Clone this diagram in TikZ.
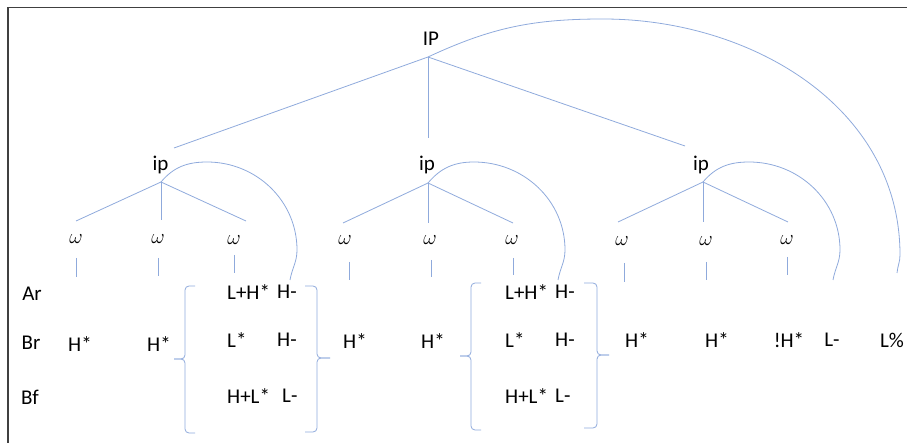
\documentclass[tikz,border=0pt]{standalone}
\usepackage{fontspec}
\setmainfont{Carlito}
\definecolor{lineblue}{RGB}{143,170,220}
\definecolor{framegray}{RGB}{64,64,64}

\begin{document}
\begin{tikzpicture}
[every node/.style={inner sep=0pt},
 tone/.style={font=\fontsize{21}{24}\selectfont},
 word/.style={font=\fontsize{22}{25}\selectfont},
 branch/.style={line width=0.8pt, color=lineblue},
 tonebrace/.style={branch, rounded corners=4pt}]
\useasboundingbox (0pt, 0pt) rectangle (907pt, -443pt);
\draw [line width=1.6pt, color=framegray] (907pt, -7.5pt) -- (8pt, -7.5pt) -- (8pt, -443pt);
% labels
\node (IP) [tone] at (431.0pt, -39.0pt) {IP};
\node (ipA) [tone] at (160.5pt, -165.0pt) {ip};
\node (ipB) [tone] at (427.0pt, -165.0pt) {ip};
\node (ipC) [tone] at (701.0pt, -165.0pt) {ip};
\node (wA1) [word] at (76.0pt, -239.0pt) {$\omega$};
\node (wA2) [word] at (158.0pt, -239.0pt) {$\omega$};
\node (wA3) [word] at (234.0pt, -240.0pt) {$\omega$};
\node (wB1) [word] at (345.0pt, -240.0pt) {$\omega$};
\node (wB2) [word] at (430.0pt, -240.0pt) {$\omega$};
\node (wB3) [word] at (512.0pt, -240.0pt) {$\omega$};
\node (wC1) [word] at (622.0pt, -241.0pt) {$\omega$};
\node (wC2) [word] at (706.0pt, -241.0pt) {$\omega$};
\node (wC3) [word] at (787.0pt, -240.0pt) {$\omega$};
\node (Ar) [tone] at (32.0pt, -294.0pt) {Ar};
\node (Br) [tone] at (31.0pt, -343.0pt) {Br};
\node (Bf) [tone] at (30.0pt, -397.0pt) {Bf};
\node (hA1) [tone] at (80.0pt, -344.0pt) {H*};
\node (hA2) [tone] at (159.0pt, -344.0pt) {H*};
\node (arA) [tone, anchor=west] at (227.0pt, -292.0pt) {L+H*};
\node (arAb) [tone, anchor=west] at (277.0pt, -292.0pt) {H-};
\node (brA) [tone, anchor=west] at (227.0pt, -340.0pt) {L*};
\node (brAb) [tone, anchor=west] at (277.0pt, -340.0pt) {H-};
\node (bfA) [tone, anchor=west] at (227.0pt, -396.0pt) {H+L*};
\node (bfAb) [tone, anchor=west] at (282.0pt, -396.0pt) {L-};
\node (hB1) [tone] at (355.0pt, -341.0pt) {H*};
\node (hB2) [tone] at (433.0pt, -341.0pt) {H*};
\node (arB) [tone, anchor=west] at (505.0pt, -292.0pt) {L+H*};
\node (arBb) [tone, anchor=west] at (555.0pt, -292.0pt) {H-};
\node (brB) [tone, anchor=west] at (505.0pt, -340.0pt) {L*};
\node (brBb) [tone, anchor=west] at (555.0pt, -340.0pt) {H-};
\node (bfB) [tone, anchor=west] at (505.0pt, -396.0pt) {H+L*};
\node (bfBb) [tone, anchor=west] at (555.0pt, -396.0pt) {L-};
\node (hC1) [tone] at (637.0pt, -340.0pt) {H*};
\node (hC2) [tone] at (717.0pt, -340.0pt) {H*};
\node (hC3) [tone] at (789.0pt, -340.0pt) {!H*};
\node (lC) [tone] at (832.0pt, -340.0pt) {L-};
\node (lIP) [tone] at (892.0pt, -340.0pt) {L\%};
% branch points
\coordinate (IPa) at (428.0pt, -57.0pt);
\coordinate (ipAt) at (174.0pt, -148.0pt);
\coordinate (ipBt) at (428.0pt, -138.0pt);
\coordinate (ipCt) at (685.0pt, -146.0pt);
\coordinate (ipAa) at (161.0pt, -182.0pt);
\coordinate (ipBa) at (428.0pt, -183.0pt);
\coordinate (ipCa) at (703.0pt, -182.0pt);
\coordinate (wA1t) at (76.0pt, -221.0pt);
\coordinate (wA2t) at (161.0pt, -220.0pt);
\coordinate (wA3t) at (246.0pt, -221.0pt);
\coordinate (wB1t) at (343.0pt, -223.0pt);
\coordinate (wB2t) at (428.0pt, -223.0pt);
\coordinate (wB3t) at (513.0pt, -223.0pt);
\coordinate (wC1t) at (618.0pt, -222.0pt);
\coordinate (wC2t) at (703.0pt, -222.0pt);
\coordinate (wC3t) at (788.0pt, -222.0pt);
\coordinate (wA1a) at (76.0pt, -258.0pt);
\coordinate (wA1b) at (76.0pt, -277.0pt);
\coordinate (wA2a) at (158.0pt, -258.0pt);
\coordinate (wA2b) at (158.0pt, -276.0pt);
\coordinate (wA3a) at (234.0pt, -255.0pt);
\coordinate (wA3b) at (234.0pt, -273.0pt);
\coordinate (wB1a) at (349.0pt, -262.0pt);
\coordinate (wB1b) at (349.0pt, -280.0pt);
\coordinate (wB2a) at (431.0pt, -260.0pt);
\coordinate (wB2b) at (431.0pt, -277.0pt);
\coordinate (wB3a) at (513.0pt, -258.0pt);
\coordinate (wB3b) at (513.0pt, -275.0pt);
\coordinate (wC1a) at (624.0pt, -263.0pt);
\coordinate (wC1b) at (624.0pt, -282.0pt);
\coordinate (wC2a) at (706.0pt, -262.0pt);
\coordinate (wC2b) at (706.0pt, -280.0pt);
\coordinate (wC3a) at (787.0pt, -257.0pt);
\coordinate (wC3b) at (787.0pt, -275.0pt);
\coordinate (ipAe) at (290.0pt, -280.0pt);
\coordinate (ipBe) at (558.0pt, -280.0pt);
\coordinate (ipCe) at (833.0pt, -280.0pt);
\coordinate (IPe) at (897.0pt, -273.0pt);
% brace ends (top, body middle, tip, bottom)
\coordinate (bAlT) at (195.0pt, -286.0pt);
\coordinate (bAlM) at (185.0pt, -359.0pt);
\coordinate (bAlP) at (174.0pt, -359.0pt);
\coordinate (bAlB) at (195.0pt, -433.0pt);
\coordinate (bArT) at (305.0pt, -286.0pt);
\coordinate (bArM) at (317.0pt, -358.0pt);
\coordinate (bArP) at (330.0pt, -358.0pt);
\coordinate (bArB) at (305.0pt, -432.0pt);
\coordinate (bBlT) at (481.0pt, -283.0pt);
\coordinate (bBlM) at (471.0pt, -356.0pt);
\coordinate (bBlP) at (460.0pt, -356.0pt);
\coordinate (bBlB) at (481.0pt, -430.0pt);
\coordinate (bBrT) at (584.0pt, -283.0pt);
\coordinate (bBrM) at (597.0pt, -355.0pt);
\coordinate (bBrP) at (609.0pt, -355.0pt);
\coordinate (bBrB) at (584.0pt, -428.0pt);
% tree
\draw [branch] (IPa) -- (ipAt);
\draw [branch] (IPa) -- (ipBt);
\draw [branch] (IPa) -- (ipCt);
\draw [branch] (ipAa) -- (wA1t);
\draw [branch] (ipAa) -- (wA2t);
\draw [branch] (ipAa) -- (wA3t);
\draw [branch] (ipBa) -- (wB1t);
\draw [branch] (ipBa) -- (wB2t);
\draw [branch] (ipBa) -- (wB3t);
\draw [branch] (ipCa) -- (wC1t);
\draw [branch] (ipCa) -- (wC2t);
\draw [branch] (ipCa) -- (wC3t);
\draw [branch] (wA1a) -- (wA1b);
\draw [branch] (wA2a) -- (wA2b);
\draw [branch] (wA3a) -- (wA3b);
\draw [branch] (wB1a) -- (wB1b);
\draw [branch] (wB2a) -- (wB2b);
\draw [branch] (wB3a) -- (wB3b);
\draw [branch] (wC1a) -- (wC1b);
\draw [branch] (wC2a) -- (wC2b);
\draw [branch] (wC3a) -- (wC3b);
% arcs to the boundary tones
\draw [branch] (ipAa) to [in=180, out=50] (207pt, -162pt) to [in=90, out=0] (297pt, -250pt) to [in=80, out=270] (ipAe);
\draw [branch] (ipBa) to [in=180, out=50] (474pt, -162pt) to [in=90, out=0] (565pt, -250pt) to [in=80, out=270] (ipBe);
\draw [branch] (ipCa) to [in=180, out=50] (749pt, -162pt) to [in=90, out=0] (840pt, -250pt) to [in=80, out=270] (ipCe);
\draw [branch] (IPa) to [in=180, out=25] (603pt, -19pt) to [in=90, out=0] (900pt, -255pt) to [in=85, out=270] (IPe);
% braces
\draw [tonebrace] (bAlT) -| (bAlM) -- (bAlP);
\draw [tonebrace] (bAlP) -- (bAlM) |- (bAlB);
\draw [tonebrace] (bArT) -| (bArM) -- (bArP);
\draw [tonebrace] (bArP) -- (bArM) |- (bArB);
\draw [tonebrace] (bBlT) -| (bBlM) -- (bBlP);
\draw [tonebrace] (bBlP) -- (bBlM) |- (bBlB);
\draw [tonebrace] (bBrT) -| (bBrM) -- (bBrP);
\draw [tonebrace] (bBrP) -- (bBrM) |- (bBrB);
\end{tikzpicture}
\end{document}
